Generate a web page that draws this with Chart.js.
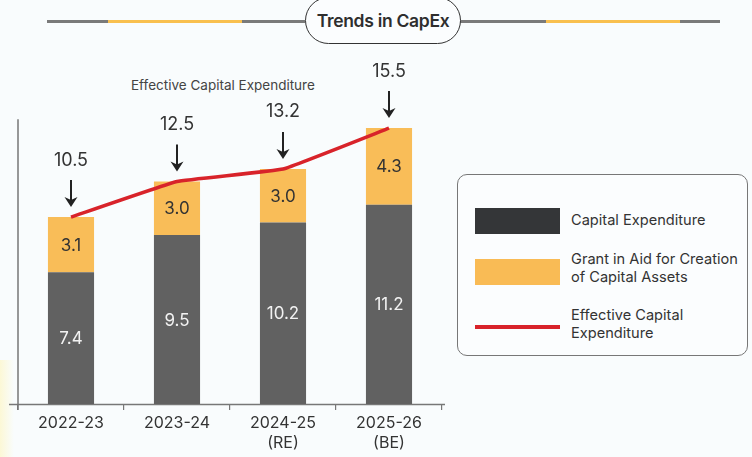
<!DOCTYPE html>
<html>
<head>
<meta charset="utf-8">
<script src="https://cdn.jsdelivr.net/npm/chart.js@4.4.1/dist/chart.umd.min.js"></script>
<style>
  html, body { margin: 0; padding: 0; }
  body {
    width: 752px; height: 457px; overflow: hidden; position: relative;
    background: #f9fcfd; font-family: "Inter", "Noto Sans", sans-serif; color: #333;
  }
  .glow {
    position: absolute; left: 0; top: 360px; width: 14px; height: 97px;
    background: linear-gradient(to right, #fcf8d6, rgba(252, 248, 214, 0));
  }
  .rule { position: absolute; top: 20px; height: 3px; background: #7a7a7a; }
  .rule.gold { background: #f9c04f; }
  .pill {
    position: absolute; left: 305px; top: -3px; width: 154px; height: 45px;
    border: 1.5px solid #333; border-radius: 24px; background: #fbfdfe;
    display: flex; align-items: center; justify-content: center;
    font-size: 17.5px; font-weight: 600; color: #2e2e2e; letter-spacing: -0.3px;
  }
  .subtitle { position: absolute; left: 131px; top: 77px; font-size: 13.5px; color: #444; }
  #wrap { position: absolute; left: 0; top: 0; width: 455px; height: 457px; }
  .legend {
    position: absolute; left: 457px; top: 174px; width: 289px; height: 180px;
    border: 1.2px solid #777; border-radius: 10px; background: #fbfdfe;
  }
  .sw { position: absolute; left: 17px; width: 85px; }
  .lt { position: absolute; left: 113px; font-size: 14.6px; line-height: 17.5px; color: #333; }
</style>
</head>
<body>
<div class="glow"></div>
<div class="rule" style="left:47px; width:258px;"></div>
<div class="rule gold" style="left:108px; width:134px;"></div>
<div class="rule" style="left:459px; width:261px;"></div>
<div class="rule gold" style="left:546px; width:134px;"></div>
<div class="pill">Trends in CapEx</div>
<div class="subtitle">Effective Capital Expenditure</div>

<div id="wrap"><canvas id="capex-chart"></canvas></div>

<div class="legend">
  <div class="sw" style="top:33px; height:26px; background:#343638;"></div>
  <div class="lt" style="top:37px;">Capital Expenditure</div>
  <div class="sw" style="top:84px; height:26px; background:#f9bb55;"></div>
  <div class="lt" style="top:76px;">Grant in Aid for Creation<br>of Capital Assets</div>
  <div class="sw" style="top:150px; height:4px; background:#d8232a;"></div>
  <div class="lt" style="top:132px;">Effective Capital<br>Expenditure</div>
</div>

<script>
const years = [['2022-23'], ['2023-24'], ['2024-25', '(RE)'], ['2025-26', '(BE)']];
const capitalExpenditure = [7.4, 9.5, 10.2, 11.2];
const grantInAid = [3.1, 3.0, 3.0, 4.3];
const effectiveCapex = [10.5, 12.5, 13.2, 15.5];

const FONT = '"Inter", "Noto Sans", sans-serif';

// segment values, arrows with totals, and the two axis lines
const annotate = {
  id: 'annotate',
  beforeDatasetsDraw(chart) {
    const { ctx, chartArea, scales } = chart;
    ctx.save();
    ctx.strokeStyle = '#777';
    ctx.lineWidth = 1.5;
    ctx.beginPath();
    ctx.moveTo(chartArea.left, scales.y.getPixelForValue(16));
    ctx.lineTo(chartArea.left, chartArea.bottom + 6);
    ctx.moveTo(chartArea.left - 9, chartArea.bottom + 0.5);
    ctx.lineTo(chartArea.right + 3, chartArea.bottom + 0.5);
    ctx.stroke();
    ctx.restore();
  },
  afterDatasetsDraw(chart) {
    const { ctx } = chart;
    ctx.save();
    ctx.textAlign = 'center';
    ctx.textBaseline = 'middle';
    ctx.font = '17px ' + FONT;

    [0, 1].forEach(di => {
      const meta = chart.getDatasetMeta(di);
      const values = chart.data.datasets[di].data;
      ctx.fillStyle = di === 0 ? '#f2f2f2' : '#333';
      meta.data.forEach((bar, i) => {
        ctx.fillText(values[i].toFixed(1), bar.x, (bar.y + bar.base) / 2 + 1);
      });
    });

    const line = chart.getDatasetMeta(2);
    line.data.forEach((pt, i) => {
      const x = pt.x, y = pt.y;
      ctx.fillStyle = '#333';
      ctx.font = '18px ' + FONT;
      ctx.fillText(effectiveCapex[i].toFixed(1), x, y - 57);
      // down arrow
      ctx.strokeStyle = '#222';
      ctx.fillStyle = '#222';
      ctx.lineWidth = 2;
      ctx.beginPath();
      ctx.moveTo(x, y - 37);
      ctx.lineTo(x, y - 15);
      ctx.stroke();
      ctx.beginPath();
      ctx.moveTo(x, y - 10);
      ctx.lineTo(x - 6.5, y - 20);
      ctx.lineTo(x, y - 17);
      ctx.lineTo(x + 6.5, y - 20);
      ctx.closePath();
      ctx.fill();
    });
    ctx.restore();
  }
};

new Chart(document.getElementById('capex-chart'), {
  data: {
    labels: years,
    datasets: [
      {
        type: 'bar',
        label: 'Capital Expenditure',
        data: capitalExpenditure,
        backgroundColor: '#616161',
        stack: 'capex',
        order: 1,
        barPercentage: 0.435,
        categoryPercentage: 1
      },
      {
        type: 'bar',
        label: 'Grant in Aid for Creation of Capital Assets',
        data: grantInAid,
        backgroundColor: '#f9bd58',
        stack: 'capex',
        order: 1,
        barPercentage: 0.435,
        categoryPercentage: 1
      },
      {
        type: 'line',
        label: 'Effective Capital Expenditure',
        data: effectiveCapex,
        borderColor: '#d8232a',
        borderWidth: 3.5,
        pointRadius: 0,
        tension: 0.08,
        stack: 'total',
        order: 0
      }
    ]
  },
  options: {
    responsive: true,
    maintainAspectRatio: false,
    animation: false,
    layout: { padding: { left: 18, right: 13, top: 48, bottom: 0 } },
    plugins: { legend: { display: false }, tooltip: { enabled: false } },
    scales: {
      x: {
        stacked: true,
        afterFit: axis => { axis.height = 53; },
        border: { display: false },
        grid: {
          offset: true,
          drawOnChartArea: false,
          drawTicks: true,
          tickLength: 6,
          color: ctx => (ctx.index >= years.length ? 'transparent' : '#777'),
          lineWidth: 1.2
        },
        ticks: {
          padding: 3,
          color: '#333',
          font: { family: FONT, size: 16, lineHeight: 1.25 }
        }
      },
      y: {
        stacked: true,
        display: false,
        min: 0,
        max: 20
      }
    }
  },
  plugins: [annotate]
});
</script>
</body>
</html>
